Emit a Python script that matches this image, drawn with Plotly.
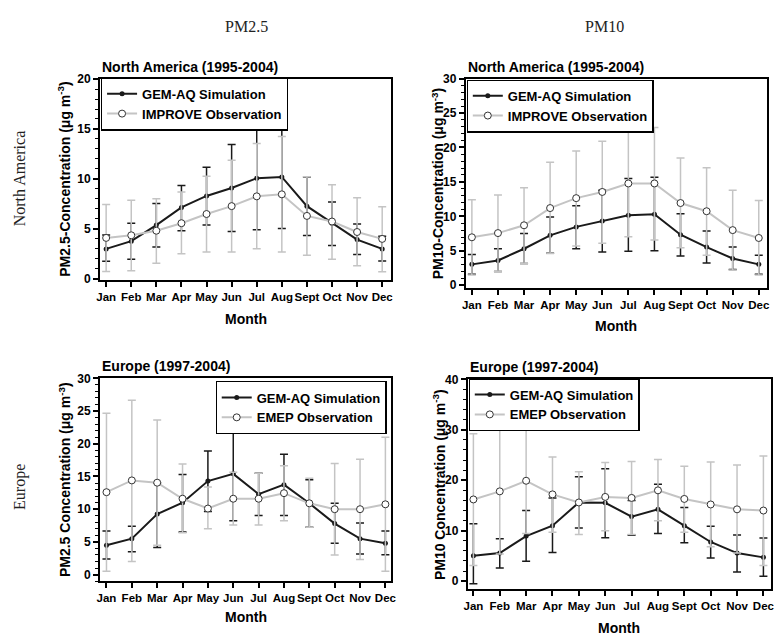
import plotly.graph_objects as go

W, H = 781, 644

months = ["Jan", "Feb", "Mar", "Apr", "May", "Jun", "Jul", "Aug", "Sept", "Oct", "Nov", "Dec"]

# North America PM2.5
na25_gem = [3.0, 3.77, 5.38, 7.15, 8.3, 9.1, 10.07, 10.2, 7.28, 5.57, 3.93, 3.0]
na25_gem_hi = [4.4, 5.57, 7.54, 9.34, 11.18, 13.44, 15.25, 15.4, 10.2, 7.7, 5.5, 4.26]
na25_gem_lo = [1.77, 1.97, 3.2, 4.82, 5.38, 4.75, 4.92, 5.05, 4.33, 3.34, 2.43, 1.8]
na25_obs = [4.1, 4.36, 4.82, 5.57, 6.49, 7.28, 8.26, 8.46, 6.3, 5.74, 4.69, 4.0]
na25_obs_hi = [7.44, 7.87, 8.03, 8.69, 10.26, 11.87, 13.54, 14.26, 10.23, 9.41, 8.13, 7.21]
na25_obs_lo = [0.75, 0.82, 1.57, 2.52, 2.69, 2.69, 3.02, 2.69, 2.36, 1.97, 1.31, 0.72]

# North America PM10
na10_gem = [3.03, 3.6, 5.3, 7.24, 8.47, 9.32, 10.17, 10.3, 7.34, 5.54, 3.88, 3.03]
na10_gem_hi = [4.45, 5.3, 7.5, 9.9, 11.55, 13.8, 15.5, 15.66, 10.36, 7.86, 5.54, 4.35]
na10_gem_lo = [1.6, 2.0, 3.17, 4.64, 5.3, 4.83, 4.92, 5.0, 4.26, 3.22, 2.3, 1.6]
na10_obs = [6.96, 7.57, 8.7, 11.2, 12.64, 13.54, 14.77, 14.77, 11.93, 10.74, 8.0, 6.86]
na10_obs_hi = [12.4, 13.1, 14.15, 17.84, 19.5, 20.9, 22.43, 22.9, 18.46, 17.04, 13.8, 12.3]
na10_obs_lo = [1.5, 2.0, 3.17, 4.6, 5.68, 6.1, 7.05, 6.58, 5.44, 4.35, 2.22, 1.5]

# Europe PM2.5
eu25_gem = [4.5, 5.5, 9.25, 11.0, 14.3, 15.4, 12.3, 13.75, 10.9, 7.8, 5.5, 4.8]
eu25_gem_hi = [6.65, 7.4, 14.0, 15.3, 18.9, 22.4, 15.5, 18.4, 14.5, 10.9, 7.9, 6.65]
eu25_gem_lo = [2.4, 3.5, 4.15, 6.5, 9.65, 8.25, 9.05, 9.05, 7.25, 4.8, 3.15, 3.05]
eu25_obs = [12.6, 14.4, 14.05, 11.6, 10.1, 11.6, 11.6, 12.45, 10.9, 10.0, 10.0, 10.75]
eu25_obs_hi = [24.65, 26.65, 23.65, 16.9, 13.4, 15.65, 15.5, 16.65, 14.75, 17.0, 17.65, 21.0]
eu25_obs_lo = [0.5, 2.0, 4.5, 6.4, 7.0, 7.6, 7.6, 8.25, 7.25, 3.0, 2.3, 0.5]

# Europe PM10
eu10_gem = [5.05, 5.57, 8.93, 11.0, 15.6, 15.53, 12.8, 14.24, 11.0, 7.77, 5.57, 4.72]
eu10_gem_hi = [11.4, 8.4, 14.0, 16.5, 20.7, 22.3, 16.0, 19.2, 14.6, 10.9, 9.13, 8.54]
eu10_gem_lo = [-0.5, 2.6, 3.95, 5.7, 10.55, 8.6, 9.1, 9.45, 7.64, 4.6, 1.8, 0.97]
eu10_obs = [16.2, 17.8, 19.9, 17.2, 15.6, 16.7, 16.5, 18.0, 16.3, 15.2, 14.24, 14.0]
eu10_obs_hi = [29.2, 30.1, 30.4, 24.6, 21.7, 23.5, 23.7, 24.1, 22.8, 23.6, 23.0, 24.8]
eu10_obs_lo = [3.1, 5.4, 9.45, 9.7, 9.26, 10.0, 9.26, 12.0, 9.7, 6.8, 5.57, 3.1]

GEM_C = "#1a1a1a"
OBS_C = "#c4c4c4"
FONT = "Liberation Sans, Arial, sans-serif"
SERIF = "Liberation Serif, Times New Roman, serif"


def px_x(p):
    return p / W


def px_y(p):
    return 1 - p / H


panels = [
    dict(gem=(na25_gem, na25_gem_hi, na25_gem_lo), obs=(na25_obs, na25_obs_hi, na25_obs_lo),
         obsname="IMPROVE Observation", box=(97, 392, 73, 279), xr=[-0.25, 11.37], yr=[-0.15, 20.05],
         dtick=5, mdtick=1, title="North America (1995-2004)",
         ytitle="PM2.5-Concentration (μg m<sup>-3</sup>)", ytx=61, mty=318, leg=(98, 72)),
    dict(gem=(na10_gem, na10_gem_hi, na10_gem_lo), obs=(na10_obs, na10_obs_hi, na10_obs_lo),
         obsname="IMPROVE Observation", box=(467, 772, 73, 287), xr=[-0.24, 11.32], yr=[-0.43, 30],
         dtick=5, mdtick=1, title="North America (1995-2004)",
         ytitle="PM10-Concentration (μg m<sup>-3</sup>)", ytx=439, mty=326, leg=(468, 74)),
    dict(gem=(eu25_gem, eu25_gem_hi, eu25_gem_lo), obs=(eu25_obs, eu25_obs_hi, eu25_obs_lo),
         obsname="EMEP Observation", box=(97, 392, 379, 586), xr=[-0.26, 11.24], yr=[-1, 30],
         dtick=5, mdtick=1, title="Europe (1997-2004)",
         ytitle="PM2.5 Concentration (μg m<sup>-3</sup>)", ytx=61, mty=623, leg=(214, 382)),
    dict(gem=(eu10_gem, eu10_gem_hi, eu10_gem_lo), obs=(eu10_obs, eu10_obs_hi, eu10_obs_lo),
         obsname="EMEP Observation", box=(469, 776, 380, 594), xr=[-0.22, 11.29], yr=[-1.55, 40],
         dtick=10, mdtick=2, title="Europe (1997-2004)",
         ytitle="PM10 Concentration (μg m<sup>-3</sup>)", ytx=440, mty=634, leg=(470, 379)),
]

fig = go.Figure()
xs = list(range(len(months)))
annotations = []
layout = {}

for i, p in enumerate(panels):
    n = i + 1
    xa = "x" if n == 1 else f"x{n}"
    ya = "y" if n == 1 else f"y{n}"
    lg = "legend" if n == 1 else f"legend{n}"
    x0, x1, y0, y1 = p["box"]

    g, ghi, glo = p["gem"]
    o, ohi, olo = p["obs"]

    fig.add_trace(go.Scatter(
        x=xs, y=g, xaxis=xa, yaxis=ya, legend=lg, name="GEM-AQ Simulation", legendrank=1,
        mode="lines+markers", line=dict(color=GEM_C, width=2),
        marker=dict(symbol="circle", size=5, color=GEM_C),
        error_y=dict(type="data", symmetric=False,
                     array=[h - v for h, v in zip(ghi, g)],
                     arrayminus=[v - l for v, l in zip(g, glo)],
                     color=GEM_C, thickness=1.5, width=4)))
    fig.add_trace(go.Scatter(
        x=xs, y=o, xaxis=xa, yaxis=ya, legend=lg, name=p["obsname"], legendrank=2,
        mode="lines+markers", line=dict(color=OBS_C, width=2),
        marker=dict(symbol="circle", size=7, color="white", line=dict(color="#333333", width=1)),
        error_y=dict(type="data", symmetric=False,
                     array=[h - v for h, v in zip(ohi, o)],
                     arrayminus=[v - l for v, l in zip(o, olo)],
                     color=OBS_C, thickness=1.5, width=4)))

    layout[f"xaxis{'' if n == 1 else n}"] = dict(
        domain=[px_x(x0), px_x(x1)], anchor=ya, range=p["xr"],
        tickmode="array", tickvals=xs, ticktext=months, tickangle=0,
        ticks="outside", ticklen=5, tickwidth=1.5, tickcolor="black",
        showline=True, linecolor="black", linewidth=1.5, mirror=True,
        showgrid=False, zeroline=False,
        tickfont=dict(family=FONT, size=11.5, color="black", weight="bold"))
    layout[f"yaxis{'' if n == 1 else n}"] = dict(
        domain=[px_y(y1), px_y(y0)], anchor=xa, range=p["yr"],
        tick0=0, dtick=p["dtick"],
        ticks="outside", ticklen=5, tickwidth=1.5, tickcolor="black",
        minor=dict(dtick=p["mdtick"], ticks="outside", ticklen=3, tickwidth=1, tickcolor="black"),
        showline=True, linecolor="black", linewidth=1.5, mirror=True,
        showgrid=False, zeroline=False,
        tickfont=dict(family=FONT, size=12, color="black", weight="bold"))

    lx, ly = p["leg"]
    layout[lg] = dict(
        x=px_x(lx), y=px_y(ly), xanchor="left", yanchor="top",
        bgcolor="white", bordercolor="black", borderwidth=1.2,
        font=dict(family=FONT, size=13, color="black", weight="bold"),
        tracegroupgap=0, itemwidth=30)

    annotations.append(dict(
        text=p["title"], x=px_x(x0), y=px_y(y0 - 2), xref="paper", yref="paper",
        xanchor="left", yanchor="bottom", showarrow=False,
        font=dict(family=FONT, size=14, color="black", weight="bold")))
    annotations.append(dict(
        text=p["ytitle"], x=px_x(p["ytx"]), y=px_y((y0 + y1) / 2), xref="paper", yref="paper",
        xanchor="center", yanchor="middle", textangle=-90, showarrow=False,
        font=dict(family=FONT, size=14, color="black", weight="bold")))
    annotations.append(dict(
        text="Month", x=px_x((x0 + x1) / 2), y=px_y(p["mty"]), xref="paper", yref="paper",
        xanchor="center", yanchor="middle", showarrow=False,
        font=dict(family=FONT, size=14, color="black", weight="bold")))

# column / row headers
for txt, xx, yy, ang in [("PM2.5", 245, 20, 0), ("PM10", 607, 20, 0),
                         ("North America", 16, 175, -90), ("Europe", 16, 490, -90)]:
    annotations.append(dict(
        text=txt, x=px_x(xx), y=px_y(yy), xref="paper", yref="paper",
        xanchor="center", yanchor="middle", textangle=ang, showarrow=False,
        font=dict(family=SERIF, size=16, color="#222222")))

fig.update_layout(
    width=W, height=H, margin=dict(l=0, r=0, t=0, b=0),
    paper_bgcolor="white", plot_bgcolor="white",
    annotations=annotations, **layout)

fig.write_html("out.html")
